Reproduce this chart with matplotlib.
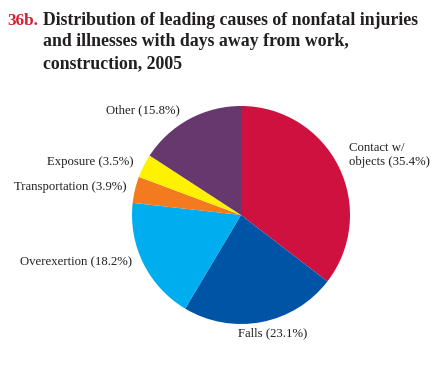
import matplotlib
matplotlib.use("Agg")
import matplotlib.pyplot as plt

categories = ["Contact w/\nobjects", "Falls", "Overexertion", "Transportation", "Exposure", "Other"]
values = [35.4, 23.1, 18.2, 3.9, 3.5, 15.8]
colors = ["#CE113E", "#0054A6", "#00AEEF", "#F47A20", "#FFF200", "#66386E"]

W, H = 448, 365
fig = plt.figure(figsize=(W / 100, H / 100), dpi=100)
plt.rcParams['font.family'] = ['Liberation Serif', 'DejaVu Serif']

cx, cy, r = 241, 215, 109
ax = fig.add_axes([(cx - r) / W, (H - cy - r) / H, 2 * r / W, 2 * r / H])
ax.pie(values, colors=colors, startangle=90, counterclock=False, radius=1,
       wedgeprops=dict(linewidth=0))
ax.set_xlim(-1, 1)
ax.set_ylim(-1, 1)
ax.set_aspect("equal")
ax.axis("off")

def px(x, y):
    return x / W, 1 - y / H

# title
tfs = 12.8
fig.text(*px(7, 25), "36b.", color="#D42032", fontsize=12.3, fontweight="bold", va="baseline", ha="left")
title_lines = ["Distribution of leading causes of nonfatal injuries",
               "and illnesses with days away from work,",
               "construction, 2005"]
for i, line in enumerate(title_lines):
    fig.text(*px(43, 25 + 21.5 * i), line, color="#231F20", fontsize=tfs, fontweight="bold",
             va="baseline", ha="left")

def lab(i):
    return f"{categories[i]} ({values[i]}%)"

fs = 9.2
fig.text(*px(349, 155), lab(0), fontsize=fs, ha="left", va="center", color="#231F20", linespacing=1.3)
fig.text(*px(238, 333), lab(1), fontsize=fs, ha="left", va="center", color="#231F20")
fig.text(*px(132, 262), lab(2), fontsize=fs, ha="right", va="center", color="#231F20")
fig.text(*px(126, 187), lab(3), fontsize=fs, ha="right", va="center", color="#231F20")
fig.text(*px(133, 162), lab(4), fontsize=fs, ha="right", va="center", color="#231F20")
fig.text(*px(106, 110), lab(5), fontsize=fs, ha="left", va="center", color="#231F20")

fig.savefig("out.png", dpi=100)
